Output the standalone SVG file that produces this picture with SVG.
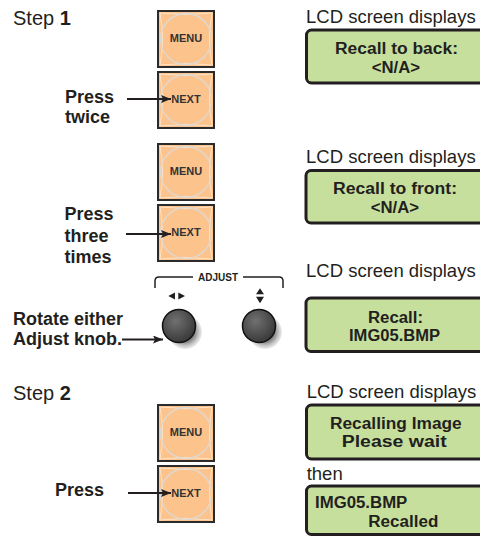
<svg xmlns="http://www.w3.org/2000/svg" xmlns:xlink="http://www.w3.org/1999/xlink" width="480" height="537" viewBox="0 0 480 537">
<style>
.lbl{font-family:"Liberation Sans",Arial,sans-serif;font-size:18.5px;fill:#231f20}
.step{font-family:"Liberation Sans",Arial,sans-serif;font-size:20px;fill:#231f20}
.bl{font-family:"Liberation Sans",Arial,sans-serif;font-size:18px;font-weight:bold;fill:#231f20}
.btxt{font-family:"Liberation Sans",Arial,sans-serif;font-size:11px;font-weight:bold;fill:#333;text-anchor:middle}
.lcd{fill:#c6df9d;stroke:#231f20;stroke-width:3}
.lt{font-family:"Liberation Sans Narrow","Liberation Sans",Arial,sans-serif;font-size:16px;font-weight:bold;fill:#231f20}
.arr{stroke:#231f20;stroke-width:2;fill:none}
</style>
<defs>
<marker id="ah" markerUnits="userSpaceOnUse" markerWidth="12" markerHeight="10" refX="10" refY="4" orient="auto">
<path d="M0,0 L10,4 L0,8 L2,4 Z" fill="#231f20"/>
</marker>
<g id="btnbg">
<rect x="1" y="1" width="56" height="56" fill="#fcc38c" stroke="#2b2b2b" stroke-width="2"/>
<path d="M3,3 Q8,29 3,55 M55,3 Q50,29 55,55 M3,3 Q29,6 55,3 M3,55 Q29,52 55,55" fill="none" stroke="#fde4c8" stroke-width="1"/>
<circle cx="29" cy="29" r="25.5" fill="none" stroke="#dcdad6" stroke-width="1.3"/>
</g>
<radialGradient id="kg" cx="0.4" cy="0.35" r="0.65">
<stop offset="0" stop-color="#707070"/>
<stop offset="1" stop-color="#3a3a3a"/>
</radialGradient>
<radialGradient id="sg" cx="0.5" cy="0.5" r="0.5">
<stop offset="0.6" stop-color="#8a8a8a"/>
<stop offset="1" stop-color="#bdbdbd" stop-opacity="0.3"/>
</radialGradient>
</defs>

<g id="step1-title">
<text class="step" x="13" y="25">Step <tspan font-weight="bold">1</tspan></text>
</g>
<g id="menu1"><use xlink:href="#btnbg" x="157" y="10"/><text class="btxt" x="186" y="42">MENU</text></g>
<g id="next1"><use xlink:href="#btnbg" x="157" y="71"/><text class="btxt" x="186" y="103">NEXT</text></g>
<g id="press1"><text class="bl" x="65" y="103.3">Press</text><text class="bl" x="65" y="123.3">twice</text></g>
<g id="lcd1">
<text class="lbl" x="306" y="23">LCD screen displays</text>
<rect class="lcd" x="306.5" y="30" width="185" height="53" rx="5"/>
<text class="lt" x="335" y="54" textLength="123" lengthAdjust="spacingAndGlyphs">Recall to back:</text>
<text class="lt" x="371.7" y="73" textLength="48.3" lengthAdjust="spacingAndGlyphs">&lt;N/A&gt;</text>
</g>

<g id="menu2"><use xlink:href="#btnbg" x="157" y="143"/><text class="btxt" x="186" y="175">MENU</text></g>
<g id="next2"><use xlink:href="#btnbg" x="157" y="204"/><text class="btxt" x="186" y="236">NEXT</text></g>
<g id="press2"><text class="bl" x="64.5" y="220">Press</text><text class="bl" x="64.5" y="241.7">three</text><text class="bl" x="64.5" y="263.3">times</text></g>
<g id="lcd2">
<text class="lbl" x="306" y="162.7">LCD screen displays</text>
<rect class="lcd" x="306" y="170.5" width="185" height="52.5" rx="5"/>
<text class="lt" x="333" y="194.3" textLength="124" lengthAdjust="spacingAndGlyphs">Recall to front:</text>
<text class="lt" x="370.7" y="212.7" textLength="48.3" lengthAdjust="spacingAndGlyphs">&lt;N/A&gt;</text>
</g>

<g id="adjust">
<path d="M155,288 L155,281 Q155,277 159,277 L193,277 M243,277 L279,277 Q283,277 283,281 L283,288" fill="none" stroke="#231f20" stroke-width="1.5"/>
<text x="218" y="281" font-family="Liberation Sans,Arial,sans-serif" font-size="10" font-weight="bold" fill="#231f20" text-anchor="middle">ADJUST</text>
<path d="M168.3,296 L175,292.5 L175,299.5 Z M185,296 L178.3,292.5 L178.3,299.5 Z" fill="#231f20"/>
<path d="M260,288.3 L264,294.3 L256,294.3 Z M260,303.3 L264,296.7 L256,296.7 Z" fill="#231f20"/>
</g>
<g id="knob1">
<circle cx="185" cy="332" r="17" fill="url(#sg)"/>
<circle cx="179" cy="326" r="16.5" fill="url(#kg)" stroke="#111" stroke-width="1.5"/>
</g>
<g id="knob2">
<circle cx="265" cy="332" r="17" fill="url(#sg)"/>
<circle cx="259" cy="326" r="16.5" fill="url(#kg)" stroke="#111" stroke-width="1.5"/>
</g>
<g id="rotate"><text class="bl" x="13" y="325">Rotate either</text><text class="bl" x="13" y="345">Adjust knob.</text></g>
<g id="lcd3">
<text class="lbl" x="306" y="276.7">LCD screen displays</text>
<rect class="lcd" x="306" y="298" width="185" height="53.5" rx="5"/>
<text class="lt" x="368" y="323.3" textLength="55" lengthAdjust="spacingAndGlyphs">Recall:</text>
<text class="lt" x="349" y="341" textLength="91" lengthAdjust="spacingAndGlyphs">IMG05.BMP</text>
</g>

<g id="step2-title">
<text class="step" x="13" y="400">Step <tspan font-weight="bold">2</tspan></text>
</g>
<g id="menu3"><use xlink:href="#btnbg" x="157" y="404"/><text class="btxt" x="186" y="436">MENU</text></g>
<g id="next3"><use xlink:href="#btnbg" x="157" y="465"/><text class="btxt" x="186" y="497">NEXT</text></g>
<g id="press3"><text class="bl" x="55" y="496">Press</text></g>
<g id="lcd4">
<text class="lbl" x="306.7" y="398.3">LCD screen displays</text>
<rect class="lcd" x="306.5" y="405" width="185" height="54" rx="5"/>
<text class="lt" x="330" y="429.3" textLength="131.7" lengthAdjust="spacingAndGlyphs">Recalling Image</text>
<text class="lt" x="341.7" y="447.3" textLength="105" lengthAdjust="spacingAndGlyphs">Please wait</text>
</g>
<g id="lcd5">
<text class="lbl" x="306.7" y="480">then</text>
<rect class="lcd" x="306.5" y="486" width="185" height="48.5" rx="5"/>
<text class="lt" x="315" y="508.3" textLength="92.3" lengthAdjust="spacingAndGlyphs">IMG05.BMP</text>
<text class="lt" x="368.3" y="526.7" textLength="70" lengthAdjust="spacingAndGlyphs">Recalled</text>
</g>

<g id="connectors">
<line class="arr" x1="127" y1="99" x2="171" y2="99" marker-end="url(#ah)"/>
<line class="arr" x1="126" y1="234" x2="171" y2="234" marker-end="url(#ah)"/>
<line class="arr" x1="122" y1="339.5" x2="163" y2="339.5" marker-end="url(#ah)"/>
<line class="arr" x1="128" y1="493" x2="171" y2="493" marker-end="url(#ah)"/>
</g>
</svg>
